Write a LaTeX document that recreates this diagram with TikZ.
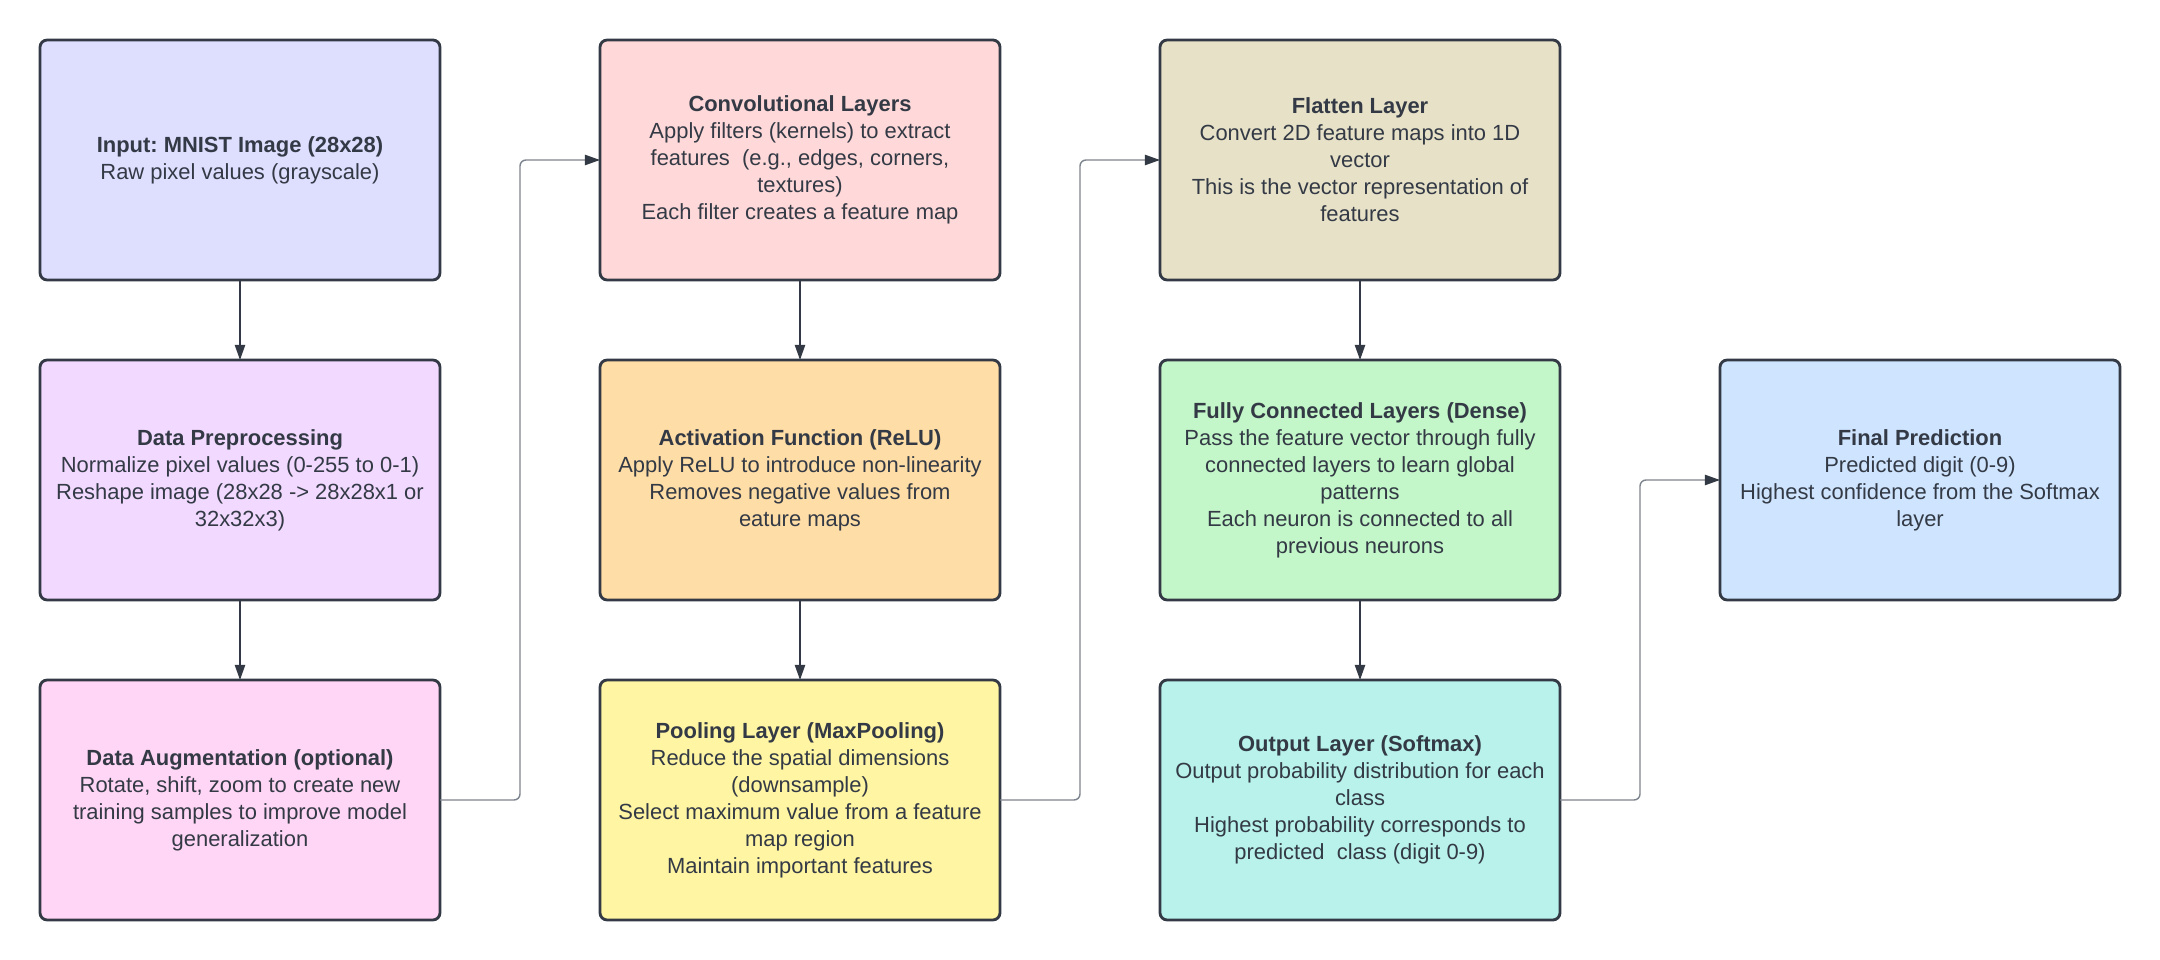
\documentclass[tikz,border=0pt]{standalone}
\usepackage{fontspec}
\setmainfont{Liberation Sans}
\frenchspacing
\usetikzlibrary{positioning, arrows.meta}
\definecolor{ink}{HTML}{333A45}
\definecolor{linegray}{HTML}{7E848D}
\definecolor{inpcol}{HTML}{DEDEFF}
\definecolor{prepcol}{HTML}{F2D9FF}
\definecolor{augcol}{HTML}{FFD6F5}
\definecolor{convcol}{HTML}{FFD9D9}
\definecolor{actcol}{HTML}{FFDDA6}
\definecolor{poolcol}{HTML}{FFF5A3}
\definecolor{flatcol}{HTML}{E7E1C8}
\definecolor{fccol}{HTML}{C3F6C8}
\definecolor{outcol}{HTML}{B8F2EA}
\definecolor{finalcol}{HTML}{CFE4FF}
\tikzstyle{block} = [draw=ink, line width=2pt, rounded corners=0.18cm, minimum width=10cm, minimum height=6cm, inner sep=0pt, outer sep=0pt, align=center, text=ink, font=\fontsize{15.6}{19.2}\selectfont]
\tikzstyle{wire} = [-{Triangle[length=0.38cm, width=0.26cm, color=ink]}, line width=1pt, draw=ink]
\tikzstyle{elbow} = [wire, draw=linegray, rounded corners=0.15cm]

\begin{document}
\begin{tikzpicture}
    \useasboundingbox (0,0) rectangle (54,-24);
    % first column
    \node[block, fill=inpcol] (inp) at (6,-4) {\textbf{Input: MNIST Image (28x28)}\\Raw pixel values (grayscale)};
    \node[block, fill=prepcol, below=2cm of inp] (prep) {\textbf{Data Preprocessing}\\Normalize pixel values (0-255 to 0-1)\\Reshape image (28x28 -> 28x28x1 or\\32x32x3)};
    \node[block, fill=augcol, below=2cm of prep] (aug) {\textbf{Data Augmentation (optional)}\\Rotate, shift, zoom to create new\\training samples to improve model\\generalization};
    % second column
    \node[block, fill=convcol, right=4cm of inp] (conv) {\textbf{Convolutional Layers}\\Apply filters (kernels) to extract\\features \ (e.g., edges, corners,\\textures)\\Each filter creates a feature map};
    \node[block, fill=actcol, below=2cm of conv] (act) {\textbf{Activation Function (ReLU)}\\Apply ReLU to introduce non-linearity\\Removes negative values from\\eature maps};
    \node[block, fill=poolcol, below=2cm of act] (pool) {\textbf{Pooling Layer (MaxPooling)}\\Reduce the spatial dimensions\\(downsample)\\Select maximum value from a feature\\map region\\Maintain important features};
    % third column
    \node[block, fill=flatcol, right=4cm of conv] (flat) {\textbf{Flatten Layer}\\Convert 2D feature maps into 1D\\vector\\This is the vector representation of\\features};
    \node[block, fill=fccol, below=2cm of flat] (fc) {\textbf{Fully Connected Layers (Dense)}\\Pass the feature vector through fully\\connected layers to learn global\\patterns\\Each neuron is connected to all\\previous neurons};
    \node[block, fill=outcol, below=2cm of fc] (outp) {\textbf{Output Layer (Softmax)}\\Output probability distribution for each\\class\\Highest probability corresponds to\\predicted \ class (digit 0-9)};
    % result
    \node[block, fill=finalcol, right=4cm of fc] (final) {\textbf{Final Prediction}\\Predicted digit (0-9)\\Highest confidence from the Softmax\\layer};

    \draw[wire] (inp) -- (prep);
    \draw[wire] (prep) -- (aug);
    \draw[elbow] (aug.east) -- ++(2,0) |- (conv.west);
    \draw[wire] (conv) -- (act);
    \draw[wire] (act) -- (pool);
    \draw[elbow] (pool.east) -- ++(2,0) |- (flat.west);
    \draw[wire] (flat) -- (fc);
    \draw[wire] (fc) -- (outp);
    \draw[elbow] (outp.east) -- ++(2,0) |- (final.west);
\end{tikzpicture}
\end{document}
